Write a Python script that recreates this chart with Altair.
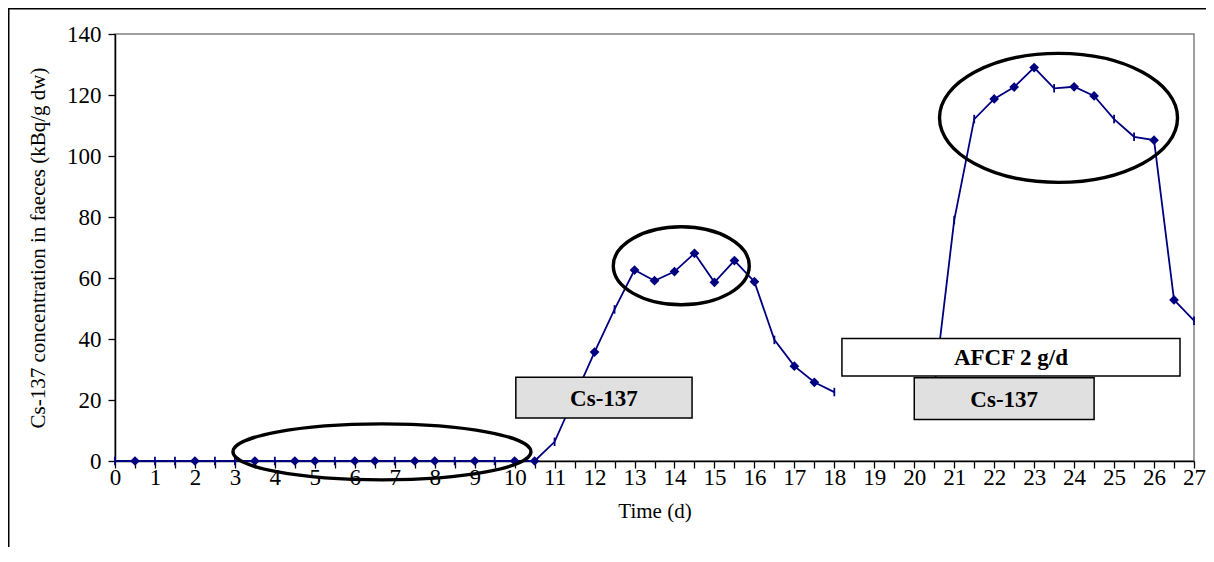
import altair as alt
import pandas as pd

# ---- data ----
days = [0.0, 0.5, 1.0, 1.5, 2.0, 2.5, 3.0, 3.5, 4.0, 4.5, 5.0, 5.5, 6.0, 6.5,
        7.0, 7.5, 8.0, 8.5, 9.0, 9.5, 10.0, 10.5, 11.0, 11.5, 12.0, 12.5, 13.0,
        13.5, 14.0, 14.5, 15.0, 15.5, 16.0, 16.5, 17.0, 17.5, 18.0,
        20.5, 21.0, 21.5, 22.0, 22.5, 23.0, 23.5, 24.0, 24.5, 25.0, 25.5,
        26.0, 26.5, 27.0]
conc = [0, 0, 0, 0, 0, 0, 0, 0, 0, 0, 0, 0, 0, 0,
        0, 0, 0, 0, 0, 0, 0, 0, 6.3, 21.0, 35.7, 49.7, 62.6,
        59.1, 62.1, 68.1, 58.6, 65.7, 58.8, 39.7, 31.1, 25.8, 22.6,
        24.0, 79.0, 112.1, 118.7, 122.6, 129.0, 122.2, 122.7, 119.7, 112.1, 106.3,
        105.2, 52.8, 46.0]
marker = ["t", "d", "t", "t", "d", "t", "t", "d", "t", "d", "d", "t", "d", "d",
          "t", "d", "d", "t", "d", "t", "d", "d", "t", "t", "d", "t", "d",
          "d", "d", "d", "d", "d", "d", "t", "d", "d", "t",
          "t", "t", "t", "d", "d", "d", "t", "d", "d", "t", "t",
          "d", "d", "t"]
segment = [1] * 37 + [2] * 14

# annotation boxes (data coordinates)
box_labels = ["Cs-137", "AFCF 2 g/d", "Cs-137"]
box_x1 = [10.03, 18.19, 20.0]
box_x2 = [14.44, 26.65, 24.5]
box_y1 = [14.1, 27.9, 13.6]
box_y2 = [27.5, 40.2, 27.3]
box_fill = ["#e0e0e0", "#ffffff", "#e0e0e0"]

# ellipse centres (data coordinates)
ell_x = [6.68, 14.17, 23.61]
ell_y = [3.0, 64.0, 112.5]

x_ticks = [i * 0.5 for i in range(55)]
y_ticks = [0, 20, 40, 60, 80, 100, 120, 140]

FONT = "Liberation Serif"
NAVY = "#000080"

df = pd.DataFrame({"day": days, "conc": conc, "marker": marker, "seg": segment})
boxes = pd.DataFrame({"label": box_labels, "x1": box_x1, "x2": box_x2,
                      "y1": box_y1, "y2": box_y2, "fill": box_fill})
boxes["xc"] = (boxes["x1"] + boxes["x2"]) / 2
boxes["yc"] = (boxes["y1"] + boxes["y2"]) / 2
ells = pd.DataFrame({"x": ell_x, "y": ell_y})

xscale = alt.Scale(domain=[0, 27], nice=False, zero=False)
yscale = alt.Scale(domain=[0, 140], nice=False)

xaxis = alt.Axis(values=x_ticks,
                 labelExpr="datum.value % 1 === 0 ? '' + datum.value : ''",
                 labelOverlap=False, labelFlush=False, labelBound=False,
                 grid=False, domainColor="black", domainWidth=1.5,
                 tickColor="black", tickWidth=1.3, tickSize=7,
                 labelFont=FONT, labelFontSize=23, labelColor="black",
                 labelPadding=-2,
                 title="Time (d)", titleFont=FONT, titleFontSize=21,
                 titleFontWeight="normal", titleColor="black", titlePadding=11)
yaxis = alt.Axis(values=y_ticks, labelOverlap=False, labelFlush=False,
                 grid=False, domainColor="black", domainWidth=1.5,
                 tickColor="black", tickWidth=1.3, tickSize=7,
                 labelFont=FONT, labelFontSize=23, labelColor="black",
                 labelPadding=7,
                 title="Cs-137 concentration in faeces (kBq/g dw)",
                 titleFont=FONT, titleFontSize=21, titleFontWeight="normal",
                 titleColor="black", titlePadding=18)


def XE(field):
    return alt.X(field, scale=xscale, axis=xaxis)


def YE(field):
    return alt.Y(field, scale=yscale, axis=yaxis)


frame = alt.Chart(pd.DataFrame({"a": [0]})).mark_rect(
    fill="transparent", stroke="black", strokeWidth=1.5, clip=False
).encode(x=alt.value(-106.25), x2=alt.value(1400),
         y=alt.value(-25.25), y2=alt.value(800))

line = alt.Chart(df).mark_line(color=NAVY, strokeWidth=1.8).encode(
    x=XE("day:Q"), y=YE("conc:Q"), detail="seg:N", order="day:Q")

diam = alt.Chart(df).transform_filter(alt.datum.marker == "d").mark_point(
    shape="diamond", filled=True, size=95, color=NAVY, opacity=1
).encode(x=XE("day:Q"), y=YE("conc:Q"))

dash = alt.Chart(df).transform_filter(alt.datum.marker == "t").mark_point(
    shape="M0,-1L0,1", filled=False, size=72, stroke=NAVY, strokeWidth=1.8, opacity=1
).encode(x=XE("day:Q"), y=YE("conc:Q"))


def ellipse_path(ratio):
    k = 0.5523
    r = ratio
    return (f"M1,0 C1,{k*r:.4f} {k},{r:.4f} 0,{r:.4f} "
            f"C{-k},{r:.4f} -1,{k*r:.4f} -1,0 "
            f"C-1,{-k*r:.4f} {-k},{-r:.4f} 0,{-r:.4f} "
            f"C{k},{-r:.4f} 1,{-k*r:.4f} 1,0 Z")


ell_px = [(298, 56), (136, 78), (238, 129)]
ell_layers = []
for i, (w, h) in enumerate(ell_px):
    ell_layers.append(
        alt.Chart(ells.iloc[[i]]).mark_point(
            shape=ellipse_path(h / w), size=w * w, filled=False,
            stroke="black", strokeWidth=3.4, opacity=1, clip=False
        ).encode(x=XE("x:Q"), y=YE("y:Q"))
    )

rects = alt.Chart(boxes).mark_rect(stroke="black", strokeWidth=1.5).encode(
    x=XE("x1:Q"), x2="x2:Q",
    y=YE("y1:Q"), y2="y2:Q",
    fill=alt.Fill("fill:N", scale=None))

texts = alt.Chart(boxes).mark_text(
    font=FONT, fontSize=23, fontWeight="bold", color="black", baseline="middle", dy=1
).encode(x=XE("xc:Q"), y=YE("yc:Q"), text="label:N")

chart = alt.layer(line, frame, diam, dash, *ell_layers, rects, texts).properties(
    width=1079, height=427,
    autosize=alt.AutoSizeParams(type="none"),
    padding={"left": 107, "top": 26, "right": 12, "bottom": 86},
    background="white",
).configure_view(
    stroke="#808080", strokeWidth=1.5
)

chart.save("out.html", embed_options={"renderer": "svg", "actions": False})
